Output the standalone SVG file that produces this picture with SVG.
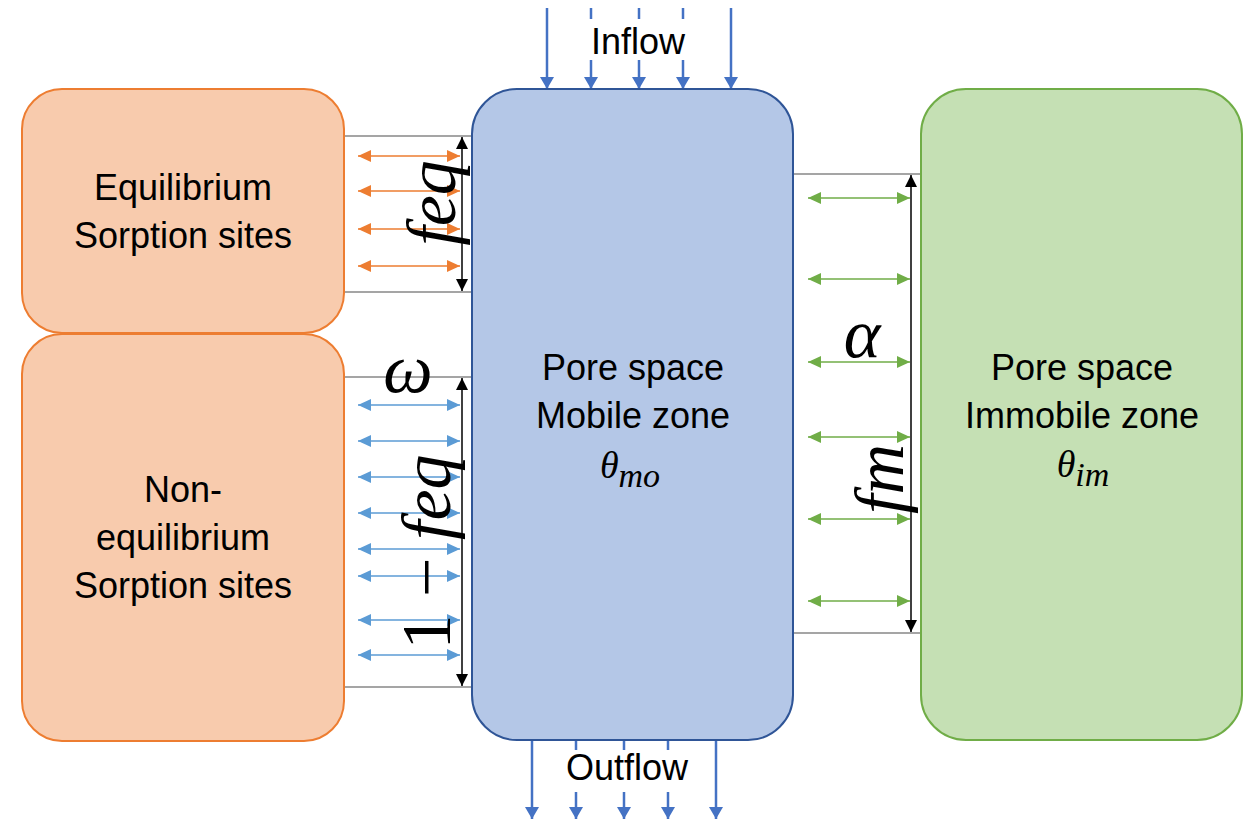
<svg xmlns="http://www.w3.org/2000/svg" width="1250" height="821" viewBox="0 0 1250 821">
<style>
.lbl{font-family:"Liberation Sans",Arial,sans-serif;font-size:36px;fill:#000;text-anchor:middle}
.math{font-family:"Liberation Serif","Times New Roman",serif;font-style:italic;fill:#000}
.big{font-size:70px}
.up{font-style:normal}
.gray{stroke:#A5A5A5;stroke-width:2;fill:none}
.flow{stroke:#4472C4;stroke-width:2.5;fill:none;marker-end:url(#mflow)}
.ex-o{stroke:#ED7D31;stroke-width:1.5;marker-start:url(#mo);marker-end:url(#mo)}
.ex-b{stroke:#5B9BD5;stroke-width:1.5;marker-start:url(#mb);marker-end:url(#mb)}
.ex-g{stroke:#70AD47;stroke-width:1.5;marker-start:url(#mg);marker-end:url(#mg)}
.dim{stroke:#000;stroke-width:1.5;marker-start:url(#mk);marker-end:url(#mk)}
</style>
<defs>
<marker id="mflow" viewBox="0 0 12 14" refX="12" refY="7" markerWidth="12" markerHeight="14" orient="auto" markerUnits="userSpaceOnUse"><path d="M0,0 L12,7 L0,14 z" fill="#4472C4"/></marker>
<marker id="mo" viewBox="0 0 13 12" refX="13" refY="6" markerWidth="13" markerHeight="12" orient="auto-start-reverse" markerUnits="userSpaceOnUse"><path d="M0,0 L13,6 L0,12 z" fill="#ED7D31"/></marker>
<marker id="mb" viewBox="0 0 13 12" refX="13" refY="6" markerWidth="13" markerHeight="12" orient="auto-start-reverse" markerUnits="userSpaceOnUse"><path d="M0,0 L13,6 L0,12 z" fill="#5B9BD5"/></marker>
<marker id="mg" viewBox="0 0 13 12" refX="13" refY="6" markerWidth="13" markerHeight="12" orient="auto-start-reverse" markerUnits="userSpaceOnUse"><path d="M0,0 L13,6 L0,12 z" fill="#70AD47"/></marker>
<marker id="mk" viewBox="0 0 12 12" refX="12" refY="6" markerWidth="12" markerHeight="12" orient="auto-start-reverse" markerUnits="userSpaceOnUse"><path d="M0,0 L12,6 L0,12 z" fill="#000"/></marker>
</defs>
<rect width="1250" height="821" fill="#fff"/>

<g id="connectors">
  <line class="flow" x1="547" y1="8" x2="547" y2="89"/>
  <line class="flow" x1="591" y1="8" x2="591" y2="89"/>
  <line class="flow" x1="639" y1="8" x2="639" y2="89"/>
  <line class="flow" x1="683" y1="8" x2="683" y2="89"/>
  <line class="flow" x1="731" y1="8" x2="731" y2="89"/>
  <line class="flow" x1="532" y1="740" x2="532" y2="819"/>
  <line class="flow" x1="576" y1="740" x2="576" y2="819"/>
  <line class="flow" x1="624" y1="740" x2="624" y2="819"/>
  <line class="flow" x1="668" y1="740" x2="668" y2="819"/>
  <line class="flow" x1="716" y1="740" x2="716" y2="819"/>
  <line class="gray" x1="344" y1="136" x2="472" y2="136"/>
  <line class="gray" x1="344" y1="292" x2="472" y2="292"/>
  <line class="gray" x1="344" y1="377" x2="472" y2="377"/>
  <line class="gray" x1="344" y1="687" x2="472" y2="687"/>
  <line class="gray" x1="793" y1="174" x2="921" y2="174"/>
  <line class="gray" x1="793" y1="633" x2="921" y2="633"/>
  <line class="ex-o" x1="358" y1="156" x2="460" y2="156"/>
  <line class="ex-o" x1="358" y1="191" x2="460" y2="191"/>
  <line class="ex-o" x1="358" y1="229" x2="460" y2="229"/>
  <line class="ex-o" x1="358" y1="266" x2="460" y2="266"/>
  <line class="ex-b" x1="358" y1="405" x2="460" y2="405"/>
  <line class="ex-b" x1="358" y1="441" x2="460" y2="441"/>
  <line class="ex-b" x1="358" y1="477" x2="460" y2="477"/>
  <line class="ex-b" x1="358" y1="513" x2="460" y2="513"/>
  <line class="ex-b" x1="358" y1="549" x2="460" y2="549"/>
  <line class="ex-b" x1="358" y1="576" x2="460" y2="576"/>
  <line class="ex-b" x1="358" y1="620" x2="460" y2="620"/>
  <line class="ex-b" x1="358" y1="655" x2="460" y2="655"/>
  <line class="ex-g" x1="808" y1="198" x2="910" y2="198"/>
  <line class="ex-g" x1="808" y1="279" x2="910" y2="279"/>
  <line class="ex-g" x1="808" y1="362" x2="910" y2="362"/>
  <line class="ex-g" x1="808" y1="437" x2="910" y2="437"/>
  <line class="ex-g" x1="808" y1="519" x2="910" y2="519"/>
  <line class="ex-g" x1="808" y1="601" x2="910" y2="601"/>
  <line class="dim" x1="462" y1="137" x2="462" y2="291"/>
  <line class="dim" x1="462" y1="378" x2="462" y2="686"/>
  <line class="dim" x1="911" y1="175" x2="911" y2="632"/>
</g>

<g id="inflow-label">
  <rect x="566" y="19" width="144" height="41" fill="#fff"/>
  <text class="lbl" x="638" y="54">Inflow</text>
</g>
<g id="outflow-label">
  <rect x="552" y="750" width="146" height="42" fill="#fff"/>
  <text class="lbl" x="627" y="780">Outflow</text>
</g>

<g id="eq-sites">
  <rect x="22" y="89" width="322" height="244" rx="40" ry="40" fill="#F8CBAD" stroke="#ED7D31" stroke-width="2"/>
  <text class="lbl" x="183" y="200">Equilibrium</text>
  <text class="lbl" x="183" y="248">Sorption sites</text>
</g>

<g id="noneq-sites">
  <rect x="22" y="334" width="322" height="407" rx="40" ry="40" fill="#F8CBAD" stroke="#ED7D31" stroke-width="2"/>
  <text class="lbl" x="183" y="502">Non-</text>
  <text class="lbl" x="183" y="550">equilibrium</text>
  <text class="lbl" x="183" y="598">Sorption sites</text>
</g>

<g id="mobile-zone">
  <rect x="472" y="89" width="321" height="651" rx="45" ry="45" fill="#B4C7E7" stroke="#2F5597" stroke-width="2"/>
  <text class="lbl" x="633" y="380">Pore space</text>
  <text class="lbl" x="633" y="428">Mobile zone</text>
  <text class="math" x="630" y="478" text-anchor="middle"><tspan font-size="38">θ</tspan><tspan font-size="34" dy="9">mo</tspan></text>
</g>

<g id="immobile-zone">
  <rect x="921" y="89" width="321" height="651" rx="45" ry="45" fill="#C5E0B4" stroke="#70AD47" stroke-width="2"/>
  <text class="lbl" x="1082" y="380">Pore space</text>
  <text class="lbl" x="1082" y="428">Immobile zone</text>
  <text class="math" x="1083" y="477" text-anchor="middle"><tspan font-size="38">θ</tspan><tspan font-size="34" dy="9">im</tspan></text>
</g>

<g id="math-labels">
  <text class="math big" text-anchor="middle" transform="translate(455,203) rotate(-90)">feq</text>
  <text class="math big" x="408" y="392" text-anchor="middle">ω</text>
  <text class="math big" text-anchor="middle" transform="translate(450,552) rotate(-90)"><tspan class="up">1 − </tspan>feq</text>
  <text class="math big" x="862" y="357" text-anchor="middle">α</text>
  <text class="math big" text-anchor="middle" transform="translate(903,479) rotate(-90)">fm</text>
</g>
</svg>
